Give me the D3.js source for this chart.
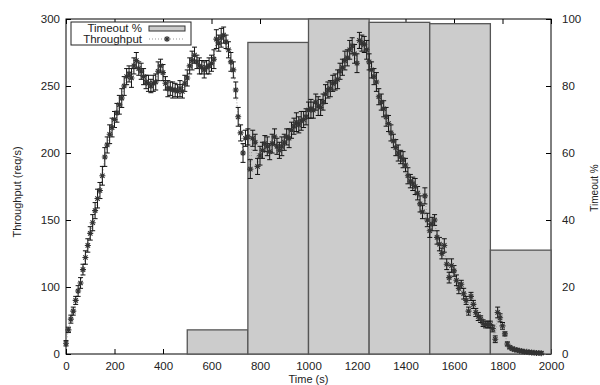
<!DOCTYPE html>
<html>
<head>
<meta charset="utf-8">
<script src="https://cdn.jsdelivr.net/npm/d3@7"></script>
<style>
  body { margin: 0; background: #fff; }
  svg { display: block; font-family: "Liberation Sans", Arial, sans-serif; }
</style>
</head>
<body>
<div id="chart"></div>
<script>
// sample times (s)
const sampleTimes = [
  0,10,20,30,40,50,60,70,80,90,
  100,110,120,130,140,150,160,170,180,190,
  200,210,220,230,240,250,260,270,280,290,
  300,310,320,330,340,350,360,370,380,390,
  400,410,420,430,440,450,460,470,480,490,
  500,510,520,530,540,550,560,570,580,590,
  600,610,620,630,640,650,660,670,680,690,
  700,710,720,730,740,750,760,770,780,790,
  800,810,820,830,840,850,860,870,880,890,
  900,910,920,930,940,950,960,970,980,990,
  1000,1010,1020,1030,1040,1050,1060,1070,1080,1090,
  1100,1110,1120,1130,1140,1150,1160,1170,1180,1190,
  1200,1210,1220,1230,1240,1250,1260,1270,1280,1290,
  1300,1310,1320,1330,1340,1350,1360,1370,1380,1390,
  1400,1410,1420,1430,1440,1450,1460,1470,1480,1490,
  1500,1510,1520,1530,1540,1550,1560,1570,1580,1590,
  1600,1610,1620,1630,1640,1650,1660,1670,1680,1690,
  1700,1710,1720,1730,1740,1750,1760,1770,1780,1790,
  1800,1810,1820,1830,1840,1850,1860,1870,1880,1890,
  1900,1910,1920,1930,1940,1950,1960
];

// throughput (req/s), read against the left axis (bottom of axis = 50)
const throughput = [
  58,68,76,82,90,97,103,113,122,131,
  140,148,157,166,172,183,197,206,214,219,
  225,230,236,241,250,257,259,256,265,269,
  263,261,257,253,252,250,252,253,261,265,
  260,252,248,248,247,247,246,248,246,252,
  256,265,269,273,268,265,264,262,264,265,
  267,270,285,282,286,288,283,277,268,262,
  247,227,215,200,211,212,188,211,208,190,
  198,202,207,205,201,207,212,205,202,205,
  208,212,211,217,220,223,221,224,225,227,
  232,233,232,238,235,234,238,244,247,248,
  252,253,255,261,264,269,271,277,280,274,
  267,284,282,281,277,268,262,257,253,242,
  238,233,227,222,215,209,204,200,197,195,
  191,183,179,177,175,170,162,156,168,150,
  142,147,150,137,132,125,131,117,107,116,
  112,105,99,102,95,90,82,93,87,81,
  78,76,73,72,72,72,69,61,81,77,
  71,65,57.5,55,54,53.3,52.9,52.5,52.1,51.7,
  51.6,51.3,51.1,50.9,50.8,50.7,50.6
];

// error bar half-heights (req/s)
const throughputErr = [
  2,2,3,3,3,4,4,4,5,5,
  5,6,6,7,6,7,7,6,7,7,
  6,7,7,7,7,6,6,7,6,6,
  5,6,6,5,6,5,6,6,7,5,
  6,5,6,5,6,5,5,6,5,6,
  6,6,7,6,5,6,5,6,5,6,
  6,7,7,6,7,6,5,6,7,6,
  6,7,6,7,6,6,7,6,6,6,
  7,6,6,7,6,7,6,6,6,7,
  6,6,7,6,6,7,6,7,6,6,
  6,7,6,6,7,6,6,7,6,6,
  6,6,7,6,6,7,6,7,6,7,
  7,6,6,6,7,6,6,6,7,6,
  6,6,7,6,6,5,6,6,5,6,
  5,6,5,5,6,5,6,5,6,5,
  5,5,4,5,5,4,5,4,4,5,
  4,4,4,3,4,3,3,3,3,3,
  3,2.5,2.5,2.5,2.5,2.5,2.5,2.5,4,3,
  2.5,1.5,1.5,1,1,1,1,1,1,1,
  1,1,1,1,1,1,1
];

// timeout % per window
const timeoutStart = [500, 750, 1000, 1250, 1500, 1750];
const timeoutEnd = [750, 1000, 1250, 1500, 1750, 2000];
const timeoutPct = [7.2, 93, 100, 99, 98.6, 31];

const xTicks = [0, 200, 400, 600, 800, 1000, 1200, 1400, 1600, 1800, 2000];
const yTicks = [50, 100, 150, 200, 250, 300];
const yTickLabels = ['0', '100', '150', '200', '250', '300'];
const y2Ticks = [0, 20, 40, 60, 80, 100];

const width = 600, height = 385;
const margin = { top: 19, right: 49, bottom: 31, left: 66 };
const plotW = width - margin.left - margin.right;
const plotH = height - margin.top - margin.bottom;

const svg = d3.select('#chart').append('svg')
  .attr('width', width)
  .attr('height', height);

const g = svg.append('g')
  .attr('transform', `translate(${margin.left},${margin.top})`);

const x = d3.scaleLinear().domain([0, 2000]).range([0, plotW]);
const y = d3.scaleLinear().domain([50, 300]).range([plotH, 0]);
const y2 = d3.scaleLinear().domain([0, 100]).range([plotH, 0]);

const textColor = '#222';

function styleAxis(sel) {
  sel.select('.domain').remove();
  sel.selectAll('line').attr('stroke', '#000').attr('stroke-width', 1);
  sel.selectAll('text').attr('fill', textColor).style('font-size', '11.5px');
}

// axes (ticks pointing inward)
g.append('g')
  .attr('transform', `translate(0,${plotH})`)
  .call(d3.axisBottom(x).tickValues(xTicks).tickSize(-5).tickPadding(8).tickFormat(d3.format('d')))
  .call(styleAxis);

g.append('g')
  .call(d3.axisTop(x).tickValues(xTicks).tickSize(-5).tickFormat(''))
  .call(styleAxis);

g.append('g')
  .call(d3.axisLeft(y).tickValues(yTicks).tickSize(-5).tickPadding(6)
    .tickFormat((d, i) => yTickLabels[i]))
  .call(styleAxis);

g.append('g')
  .attr('transform', `translate(${plotW},0)`)
  .call(d3.axisRight(y2).tickValues(y2Ticks).tickSize(-5).tickPadding(11))
  .call(styleAxis);

// frame
g.append('rect')
  .attr('width', plotW)
  .attr('height', plotH)
  .attr('fill', 'none')
  .attr('stroke', '#000')
  .attr('stroke-width', 1);

// timeout bars
g.selectAll('.bar')
  .data(timeoutPct)
  .enter()
  .append('rect')
  .attr('class', 'bar')
  .attr('x', (d, i) => x(timeoutStart[i]))
  .attr('width', (d, i) => x(timeoutEnd[i]) - x(timeoutStart[i]))
  .attr('y', d => y2(d))
  .attr('height', d => plotH - y2(d))
  .attr('fill', '#cccccc')
  .attr('stroke', '#555')
  .attr('stroke-width', 1.3);

// throughput line
const pts = throughput.map((v, i) => ({ t: sampleTimes[i], v: v, e: throughputErr[i] }));

const line = d3.line()
  .x(d => x(d.t))
  .y(d => y(d.v));

g.append('path')
  .datum(pts)
  .attr('d', line)
  .attr('fill', 'none')
  .attr('stroke', '#999')
  .attr('stroke-width', 1)
  .attr('stroke-dasharray', '1,2');

// error bars
const eb = g.selectAll('.err')
  .data(pts)
  .enter()
  .append('g')
  .attr('class', 'err')
  .attr('stroke', '#111')
  .attr('stroke-width', 1);

eb.append('line')
  .attr('x1', d => x(d.t)).attr('x2', d => x(d.t))
  .attr('y1', d => y(d.v - d.e)).attr('y2', d => y(d.v + d.e));
eb.append('line')
  .attr('x1', d => x(d.t) - 2.5).attr('x2', d => x(d.t) + 2.5)
  .attr('y1', d => y(d.v + d.e)).attr('y2', d => y(d.v + d.e));
eb.append('line')
  .attr('x1', d => x(d.t) - 2.5).attr('x2', d => x(d.t) + 2.5)
  .attr('y1', d => y(d.v - d.e)).attr('y2', d => y(d.v - d.e));

// star markers
const star = 'M-3,0H3M0,-3V3M-2.2,-2.2L2.2,2.2M-2.2,2.2L2.2,-2.2';
g.selectAll('.pt')
  .data(pts)
  .enter()
  .append('path')
  .attr('class', 'pt')
  .attr('d', star)
  .attr('transform', d => `translate(${x(d.t)},${y(d.v)})`)
  .attr('fill', 'none')
  .attr('stroke', '#333')
  .attr('stroke-width', 1.1);

// legend
const legend = svg.append('g');
legend.append('rect')
  .attr('x', 71).attr('y', 22)
  .attr('width', 120).attr('height', 23)
  .attr('fill', '#fff')
  .attr('stroke', '#222')
  .attr('stroke-width', 1);
legend.append('text')
  .attr('x', 142).attr('y', 32)
  .attr('text-anchor', 'end')
  .attr('fill', textColor)
  .style('font-size', '11.5px')
  .text('Timeout %');
legend.append('rect')
  .attr('x', 149).attr('y', 26)
  .attr('width', 36).attr('height', 5)
  .attr('fill', '#cccccc')
  .attr('stroke', '#333')
  .attr('stroke-width', 1);
legend.append('text')
  .attr('x', 142).attr('y', 43)
  .attr('text-anchor', 'end')
  .attr('fill', textColor)
  .style('font-size', '11.5px')
  .text('Throughput');
legend.append('line')
  .attr('x1', 149).attr('x2', 185)
  .attr('y1', 39).attr('y2', 39)
  .attr('stroke', '#999')
  .attr('stroke-dasharray', '1,2');
legend.append('path')
  .attr('d', star)
  .attr('transform', 'translate(167,39)')
  .attr('fill', 'none')
  .attr('stroke', '#333')
  .attr('stroke-width', 1.1);

// axis titles
svg.append('text')
  .attr('transform', 'translate(21,192) rotate(-90)')
  .attr('text-anchor', 'middle')
  .attr('fill', textColor)
  .style('font-size', '11px')
  .text('Throughput (req/s)');

svg.append('text')
  .attr('transform', 'translate(598,188) rotate(-90)')
  .attr('text-anchor', 'middle')
  .attr('fill', textColor)
  .style('font-size', '10px')
  .text('Timeout %');

svg.append('text')
  .attr('x', margin.left + plotW / 2)
  .attr('y', 383)
  .attr('text-anchor', 'middle')
  .attr('fill', textColor)
  .style('font-size', '11px')
  .text('Time (s)');
</script>
</body>
</html>
